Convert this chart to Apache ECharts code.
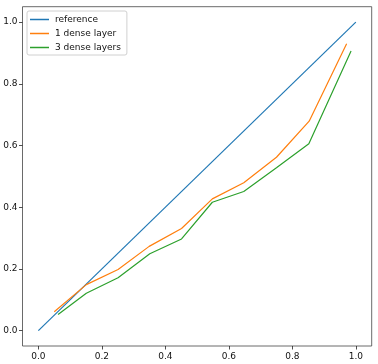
<!DOCTYPE html>
<html>
<head>
<meta charset="utf-8">
<style>
html, body { margin: 0; padding: 0; background: #fff; }
#main { width: 378px; height: 364px; }
</style>
<script src="https://cdn.jsdelivr.net/npm/echarts@6/dist/echarts.min.js"></script>
</head>
<body>
<div id="main"></div>
<script>
// 图例名称
const seriesNames = ['reference', '1 dense layer', '3 dense layers']
const colors = ['#1f77b4', '#ff7f0e', '#2ca02c']

// 刻度
const tickValues = [0, 0.2, 0.4, 0.6, 0.8, 1.0]

// 参考线
const refX = [0, 1]
const refY = [0, 1]

// 1 dense layer
const oneX = [0.05, 0.151, 0.251, 0.349, 0.451, 0.548, 0.647, 0.75, 0.853, 0.971]
const oneY = [0.061, 0.149, 0.198, 0.273, 0.331, 0.427, 0.479, 0.562, 0.679, 0.93]

// 3 dense layers
const threeX = [0.062, 0.151, 0.251, 0.351, 0.451, 0.548, 0.647, 0.75, 0.852, 0.985]
const threeY = [0.052, 0.121, 0.171, 0.249, 0.297, 0.416, 0.451, 0.528, 0.606, 0.906]

const pairs = (xs, ys) => xs.map((x, i) => [x, ys[i]])

const axisCommon = {
  type: 'value',
  min: -0.05,
  max: 1.05,
  axisLine: { show: false, onZero: false },
  splitLine: { show: false },
  axisTick: {
    show: true,
    length: 3.5,
    customValues: tickValues,
    lineStyle: { color: '#222', width: 0.8 }
  },
  axisLabel: {
    customValues: tickValues,
    formatter: v => v.toFixed(1),
    color: '#111',
    fontSize: 9,
    fontFamily: 'DejaVu Sans',
    margin: 5
  }
}

const chart = echarts.init(document.getElementById('main'))
chart.setOption({
  animation: false,
  color: colors,
  grid: {
    left: 22.5,
    right: 6.3,
    top: 6.7,
    bottom: 18,
    show: true,
    borderColor: '#444',
    borderWidth: 0.8,
    backgroundColor: '#fff'
  },
  legend: {
    orient: 'vertical',
    left: 27,
    top: 11,
    data: seriesNames,
    icon: 'rect',
    itemWidth: 19,
    itemHeight: 1.5,
    itemGap: 5,
    padding: [4, 6, 3, 3],
    backgroundColor: 'rgba(255,255,255,0.8)',
    borderColor: '#d0d0d0',
    borderWidth: 1,
    borderRadius: 2,
    textStyle: {
      color: '#111',
      fontSize: 9,
      fontFamily: 'DejaVu Sans',
      padding: [0, 0, 0, 1]
    }
  },
  xAxis: Object.assign({}, axisCommon, {
    axisLabel: Object.assign({}, axisCommon.axisLabel, { margin: 6 })
  }),
  yAxis: axisCommon,
  series: [
    { name: seriesNames[0], type: 'line', symbol: 'none', data: pairs(refX, refY), lineStyle: { width: 1.2 } },
    { name: seriesNames[1], type: 'line', symbol: 'none', data: pairs(oneX, oneY), lineStyle: { width: 1.2 } },
    { name: seriesNames[2], type: 'line', symbol: 'none', data: pairs(threeX, threeY), lineStyle: { width: 1.2 } }
  ]
})
</script>
</body>
</html>
